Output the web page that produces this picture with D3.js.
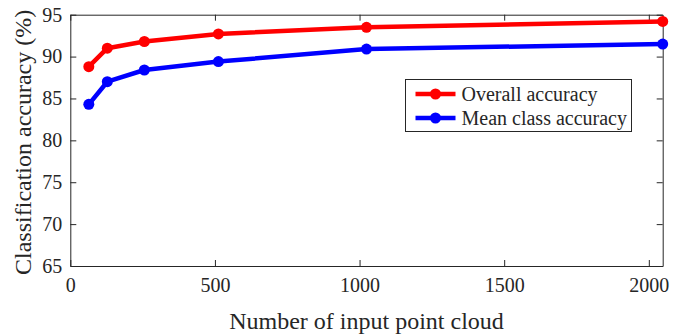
<!DOCTYPE html>
<html>
<head>
<meta charset="utf-8">
<script src="https://cdn.jsdelivr.net/npm/d3@7"></script>
<style>
  body { margin: 0; background: #fff; }
  svg { display: block; font-family: "Liberation Serif", "Times New Roman", serif; }
</style>
</head>
<body>
<svg id="chart" width="686" height="335"></svg>
<script>
// point cloud sizes and accuracies
const pointCounts = [64, 128, 256, 512, 1024, 2048];
const overallAcc = [88.8, 91.0, 91.8, 92.7, 93.5, 94.2];
const meanClassAcc = [84.3, 87.0, 88.4, 89.4, 90.9, 91.5];
const xTicks = [0, 500, 1000, 1500, 2000];
const yTicks = [65, 70, 75, 80, 85, 90, 95];

const series = [
  { name: 'Overall accuracy', values: overallAcc, color: '#ff0000' },
  { name: 'Mean class accuracy', values: meanClassAcc, color: '#0000ff' }
];

const width = 686, height = 335;
const margin = { top: 14.7, right: 23.3, bottom: 69, left: 70.3 };
const axisColor = '#262626';

const svg = d3.select('#chart');
const g = svg.append('g').attr('transform', `translate(${margin.left},${margin.top})`);
const w = width - margin.left - margin.right;
const h = height - margin.top - margin.bottom;

const x = d3.scaleLinear().domain([0, 2048]).range([0, w]);
const y = d3.scaleLinear().domain([65, 95]).range([h, 0]);

// axes, ticks point inward like matlab
const styleAxis = sel => {
  sel.select('.domain').attr('stroke', axisColor);
  sel.selectAll('.tick line').attr('stroke', axisColor);
  sel.selectAll('.tick text').attr('fill', axisColor)
    .style('font-size', '20px').style('font-family', '"Liberation Serif", serif');
};

g.append('g').attr('transform', `translate(0,${h})`)
  .call(d3.axisBottom(x).tickValues(xTicks).tickFormat(d3.format('d'))
    .tickSizeInner(-6).tickSizeOuter(0).tickPadding(12))
  .call(styleAxis);
g.append('g')
  .call(d3.axisTop(x).tickValues(xTicks).tickSizeInner(-6).tickSizeOuter(0).tickFormat(''))
  .call(styleAxis);
g.append('g')
  .call(d3.axisLeft(y).tickValues(yTicks).tickSizeInner(-6).tickSizeOuter(0).tickPadding(8))
  .call(styleAxis);
g.append('g').attr('transform', `translate(${w},0)`)
  .call(d3.axisRight(y).tickValues(yTicks).tickSizeInner(-6).tickSizeOuter(0).tickFormat(''))
  .call(styleAxis);

// lines + markers
const line = d3.line().x((d, i) => x(pointCounts[i])).y(d => y(d));

series.forEach(s => {
  g.append('path')
    .datum(s.values)
    .attr('fill', 'none')
    .attr('stroke', s.color)
    .attr('stroke-width', 4.5)
    .attr('stroke-linejoin', 'round')
    .attr('d', line);
  g.selectAll(null)
    .data(s.values)
    .join('circle')
    .attr('cx', (d, i) => x(pointCounts[i]))
    .attr('cy', d => y(d))
    .attr('r', 5.5)
    .attr('fill', s.color);
});

// axis titles
svg.append('text')
  .attr('x', margin.left + w / 2)
  .attr('y', 329)
  .attr('text-anchor', 'middle')
  .attr('fill', axisColor)
  .style('font-size', '24px')
  .text('Number of input point cloud');

svg.append('text')
  .attr('transform', `translate(31,${margin.top + h / 2 + 2}) rotate(-90)`)
  .attr('text-anchor', 'middle')
  .attr('fill', axisColor)
  .style('font-size', '24px')
  .text('Classification accuracy (%)');

// legend
const legend = svg.append('g').attr('transform', 'translate(405.5,79.5)');
legend.append('rect')
  .attr('width', 226).attr('height', 52)
  .attr('fill', '#fff').attr('stroke', axisColor).attr('stroke-width', 1);

series.forEach((s, i) => {
  const row = legend.append('g').attr('transform', `translate(0,${14.5 + i * 24})`);
  row.append('line').attr('x1', 10).attr('x2', 50)
    .attr('stroke', s.color).attr('stroke-width', 4.5);
  row.append('circle').attr('cx', 30).attr('r', 5.5).attr('fill', s.color);
  row.append('text').attr('x', 56).attr('y', 7)
    .attr('fill', axisColor)
    .style('font-size', '20px')
    .text(s.name);
});
</script>
</body>
</html>
